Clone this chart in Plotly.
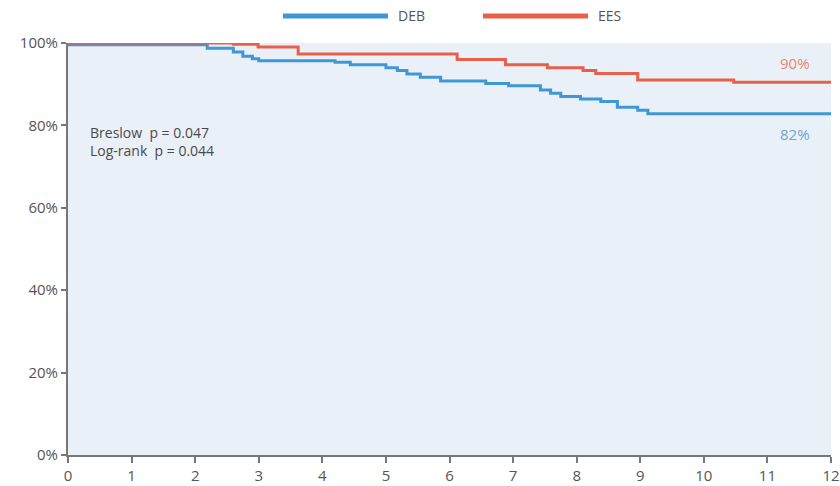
import plotly.graph_objects as go

# Kaplan-Meier step data (months, survival %)
deb_t = [0, 2.19, 2.6, 2.75, 2.9, 3.0, 4.2, 4.44, 5.0, 5.18, 5.33, 5.54, 5.86,
         6.57, 6.93, 7.43, 7.59, 7.75, 8.06, 8.38, 8.64, 8.96, 9.12, 12]
deb_s = [99.6, 98.7, 97.8, 96.8, 96.2, 95.7, 95.3, 94.7, 94.0, 93.3, 92.5, 91.7, 90.8,
         90.2, 89.6, 88.6, 87.8, 87.0, 86.4, 85.8, 84.4, 83.7, 82.8, 82.8]

ees_t = [0, 2.6, 2.99, 3.62, 6.12, 6.88, 7.54, 8.1, 8.3, 8.96, 10.47, 12]
ees_s = [100, 99.7, 99.0, 97.3, 96.0, 94.7, 94.0, 93.3, 92.6, 91.0, 90.5, 90.5]

series_names = ["DEB", "EES"]
x_ticks = list(range(0, 13))
y_ticks = [0, 20, 40, 60, 80, 100]
y_tick_labels = ["0%", "20%", "40%", "60%", "80%", "100%"]
stats_text = ["Breslow  p = 0.047", "Log-rank  p = 0.044"]
end_labels = ["82%", "90%"]

BLUE = "#3f97d6"
RED = "#e8604a"
BG = "#eaf0f8"
AXIS = "#76777d"
TXT = "#555555"

fig = go.Figure()
fig.add_trace(go.Scatter(x=deb_t, y=deb_s, mode="lines", line=dict(color=BLUE, width=3, shape="hv"),
                         name=series_names[0], showlegend=False))
fig.add_trace(go.Scatter(x=ees_t, y=ees_s, mode="lines", line=dict(color=RED, width=3, shape="hv"),
                         name=series_names[1], showlegend=False))

W, H = 840, 486
ml, mr, mt, mb = 68, 9, 43, 31

def px(xp):
    return (xp - ml) / (W - ml - mr)

def py(yp):
    return (H - mb - yp) / (H - mt - mb)

# manual legend (long line swatches)
for (x0, x1, tx), col, name in zip([(283, 388, 396), (483, 588, 596)], [BLUE, RED], series_names):
    fig.add_shape(type="line", xref="paper", yref="paper", x0=px(x0), x1=px(x1), y0=py(16), y1=py(16),
                  line=dict(color=col, width=5))
    fig.add_annotation(xref="paper", yref="paper", x=px(tx), y=py(16), text=name, showarrow=False,
                       xanchor="left", yanchor="middle", font=dict(size=14, color=TXT))

fig.add_annotation(xref="paper", yref="paper", x=px(88), y=py(121), xanchor="left", yanchor="top",
                   text="<br>".join(stats_text), showarrow=False, align="left",
                   font=dict(size=14, color="#4a4a4a"))

fig.add_annotation(x=11.43, y=deb_s[-1], yshift=-20, text=end_labels[0], showarrow=False,
                   font=dict(size=15, color="#6ea6d6"))
fig.add_annotation(x=11.43, y=ees_s[-1], yshift=19, text=end_labels[1], showarrow=False,
                   font=dict(size=15, color="#ec8470"))

fig.update_layout(
    width=W, height=H, autosize=False,
    margin=dict(l=ml, r=mr, t=mt, b=mb, pad=0, autoexpand=False),
    paper_bgcolor="white", plot_bgcolor=BG,
    font=dict(family="Open Sans", size=14, color=TXT),
    showlegend=False,
)
fig.update_xaxes(range=[0, 12], tickvals=x_ticks, showgrid=False, zeroline=False, automargin=False,
                 showline=True, linecolor=AXIS, linewidth=2, ticks="outside", ticklen=6,
                 tickcolor=AXIS, tickwidth=1.5, tickfont=dict(size=15, color=TXT))
fig.update_yaxes(range=[0, 100], tickvals=y_ticks, ticktext=y_tick_labels, showgrid=False, zeroline=False,
                 automargin=False,
                 showline=True, linecolor=AXIS, linewidth=2, ticks="outside", ticklen=5,
                 tickcolor=AXIS, tickwidth=1.5, tickfont=dict(size=15, color=TXT))

fig.write_html("out.html")
